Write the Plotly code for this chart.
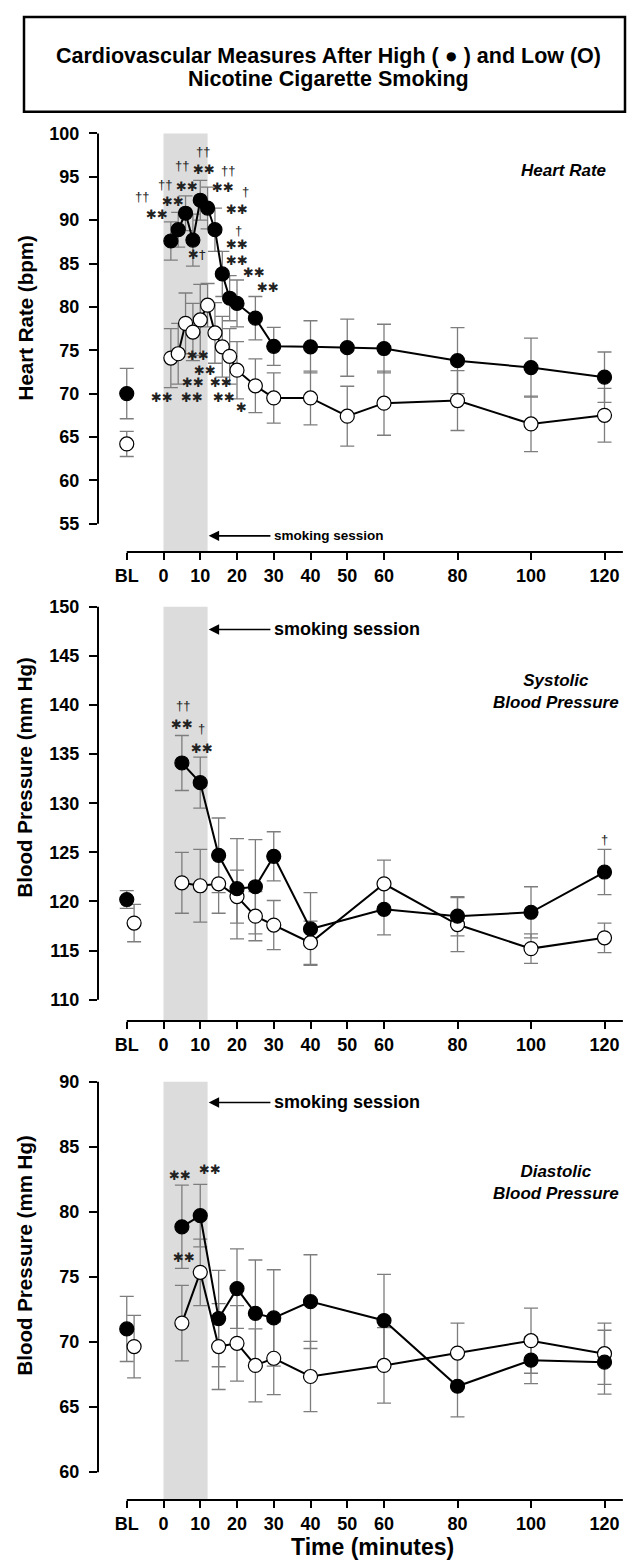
import plotly.graph_objects as go

W, H = 635, 1562
FONT = "Liberation Sans, Arial, Helvetica, sans-serif"
BL = -10          # x position used for the baseline (BL) category
BL_LOW = -8       # baseline position of the low-nicotine marker in BP panels

# ---------------- data ----------------
hr_time = [BL, 2, 4, 6, 8, 10, 12, 14, 16, 18, 20, 25, 30, 40, 50, 60, 80, 100, 120]
hr_high = [70.0, 87.6, 88.9, 90.8, 87.7, 92.3, 91.4, 88.9, 83.8, 81.0, 80.4, 78.7,
           75.45, 75.4, 75.3, 75.2, 73.8, 73.0, 71.9]
hr_high_err = [2.9, 2.2, 2.0, 2.0, 3.0, 2.3, 2.4, 2.5, 2.6, 2.6, 2.7, 2.5,
               2.2, 3.0, 3.3, 2.8, 3.8, 3.4, 2.9]
hr_low = [64.2, 74.1, 74.6, 78.1, 77.1, 78.5, 80.2, 77.0, 75.4, 74.3, 72.7, 70.9,
          69.5, 69.5, 67.4, 68.9, 69.2, 66.5, 67.5]
hr_low_err = [1.45, 3.4, 3.5, 3.5, 3.3, 4.1, 2.5, 3.5, 3.5, 3.2, 3.3, 3.1,
              2.9, 3.1, 3.45, 3.7, 3.45, 3.2, 3.1]

bp_time = [BL, 5, 10, 15, 20, 25, 30, 40, 60, 80, 100, 120]
sbp_high = [120.2, 134.1, 132.1, 124.7, 121.3, 121.5, 124.6, 117.2, 119.2, 118.5, 118.9, 123.0]
sbp_high_err = [0.9, 2.8, 2.6, 3.8, 5.1, 4.8, 2.5, 3.7, 2.6, 2.0, 2.6, 2.3]
sbp_low = [117.8, 121.9, 121.6, 121.8, 120.5, 118.5, 117.6, 115.8, 121.8, 117.65, 115.2, 116.3]
sbp_low_err = [1.9, 3.1, 3.7, 3.0, 2.7, 2.5, 2.5, 2.2, 2.4, 2.75, 1.5, 1.5]

dbp_high = [71.0, 78.85, 79.7, 71.8, 74.1, 72.2, 71.85, 73.1, 71.65, 66.6, 68.6, 68.45]
dbp_high_err = [2.5, 3.2, 2.4, 3.7, 3.05, 4.1, 3.7, 3.6, 3.55, 2.35, 1.8, 2.45]
dbp_low = [69.65, 71.45, 75.35, 69.65, 69.9, 68.2, 68.75, 67.35, 68.2, 69.15, 70.1, 69.1]
dbp_low_err = [2.4, 2.9, 2.55, 3.3, 2.9, 2.8, 2.8, 2.7, 2.9, 2.3, 2.5, 2.35]

x_tickvals = [BL, 0, 10, 20, 30, 40, 50, 60, 80, 100, 120]
x_ticktext = ["BL", "0", "10", "20", "30", "40", "50", "60", "80", "100", "120"]

hr_ticks = [55, 60, 65, 70, 75, 80, 85, 90, 95, 100]
sbp_ticks = [110, 115, 120, 125, 130, 135, 140, 145, 150]
dbp_ticks = [60, 65, 70, 75, 80, 85, 90]

# significance marks: (time, value, text)
hr_marks = [
    (10.67, 97.97, "††"), (5.12, 96.25, "††"), (11.02, 95.79, "✱✱"), (17.63, 95.67, "††"),
    (0.41, 94.13, "††"), (6.48, 93.83, "✱✱"), (16.27, 93.75, "✱✱"), (22.18, 93.29, "†"),
    (-5.93, 92.68, "††"), (2.50, 92.14, "✱✱"), (-1.69, 90.68, "✱✱"), (20.08, 91.25, "✱✱"),
    (9.03, 86.0, "✱†"), (20.35, 88.77, "†"), (20.08, 87.16, "✱✱"), (19.92, 85.31, "✱✱"),
    (24.63, 83.97, "✱✱"), (28.52, 82.24, "✱✱"),
    (9.47, 74.38, "✱✱"), (11.29, 72.65, "✱✱"), (8.11, 71.31, "✱✱"), (15.56, 71.31, "✱✱"),
    (-0.33, 69.5, "✱✱"), (7.67, 69.5, "✱✱"), (16.46, 69.5, "✱✱"), (21.28, 68.43, "✱"),
]
sbp_marks = [(5.39, 140.0, "††"), (4.95, 137.98, "✱✱"), (10.39, 137.63, "†"),
             (10.39, 135.6, "✱✱"), (120.1, 126.3, "†")]
dbp_marks = [(4.49, 82.77, "✱✱"), (12.65, 83.28, "✱✱"), (5.58, 76.52, "✱✱")]

SESSION_END = 12

# ---------------- layout geometry (pixels) ----------------
PX_LEFT, PX_RIGHT = 98, 625
PX_ZERO, PX_120 = 163.5, 604.5
ppm = (PX_120 - PX_ZERO) / 120.0
x_range = [(PX_LEFT - PX_ZERO) / ppm, (PX_RIGHT - PX_ZERO) / ppm]
x_dom = [PX_LEFT / W, PX_RIGHT / W]


def y_setup(top_px, bot_px, pa, va, pb, vb):
    ppu = (pb - pa) / (va - vb)
    vtop = va + (pa - top_px) / ppu
    vbot = va - (bot_px - pa) / ppu
    return [1 - bot_px / H, 1 - top_px / H], [vbot, vtop]


panels = [
    dict(dom_rng=y_setup(122, 550, 130.7, 100, 521.7, 55), t=hr_time, hi=hr_high, hie=hr_high_err,
         lo=hr_low, loe=hr_low_err, bl_low=BL, ticks=hr_ticks, marks=hr_marks,
         title="Heart Rate (bpm)", title_y=316, label="Heart Rate", label_xy=(563, 168),
         sess_v=53.6, sess_size=13.5),
    dict(dom_rng=y_setup(598, 1020, 605, 150, 998.6, 110), t=bp_time, hi=sbp_high, hie=sbp_high_err,
         lo=sbp_low, loe=sbp_low_err, bl_low=BL_LOW, ticks=sbp_ticks, marks=sbp_marks,
         title="Blood Pressure (mm Hg)", title_y=776, label="Systolic<br>Blood Pressure",
         label_xy=(556, 690), sess_v=147.7, sess_size=18),
    dict(dom_rng=y_setup(1073, 1500, 1080.7, 90, 1472, 60), t=bp_time, hi=dbp_high, hie=dbp_high_err,
         lo=dbp_low, loe=dbp_low_err, bl_low=BL_LOW, ticks=dbp_ticks, marks=dbp_marks,
         title="Blood Pressure (mm Hg)", title_y=1255, label="Diastolic<br>Blood Pressure",
         label_xy=(556, 1182), sess_v=88.4, sess_size=18),
]

fig = go.Figure()
shapes, annotations = [], []
ERR_COLOR = "#7d7d7d"
TICKFONT = dict(family=FONT, size=18, color="black", weight="bold")

for i, p in enumerate(panels, start=1):
    xa = "x" if i == 1 else f"x{i}"
    ya = "y" if i == 1 else f"y{i}"
    dom, rng = p["dom_rng"]
    t, hi, hie, lo, loe = p["t"], p["hi"], p["hie"], p["lo"], p["loe"]
    t_lo = [p["bl_low"]] + t[1:]

    # error bars first (under markers)
    for xs, ys, es in ((t_lo, lo, loe), (t, hi, hie)):
        fig.add_trace(go.Scatter(
            x=xs, y=ys, mode="markers", xaxis=xa, yaxis=ya, showlegend=False, hoverinfo="skip",
            marker=dict(size=1, color="rgba(0,0,0,0)"),
            error_y=dict(type="data", array=es, color=ERR_COLOR, thickness=1.3, width=7)))
    # low nicotine (open) then high nicotine (filled)
    for xs, ys, fill in ((t_lo, lo, "white"), (t, hi, "black")):
        fig.add_trace(go.Scatter(
            x=xs[1:], y=ys[1:], mode="lines+markers", xaxis=xa, yaxis=ya, showlegend=False,
            line=dict(color="black", width=2),
            marker=dict(size=14, color=fill, line=dict(color="black", width=1.2))))
        fig.add_trace(go.Scatter(
            x=xs[:1], y=ys[:1], mode="markers", xaxis=xa, yaxis=ya, showlegend=False,
            marker=dict(size=14, color=fill, line=dict(color="black", width=1.2))))

    axis_common = dict(showgrid=False, zeroline=False, showline=False, ticks="outside",
                       tickcolor="black", tickwidth=2, tickfont=TICKFONT)
    fig.layout[("xaxis" if i == 1 else f"xaxis{i}")] = dict(
        domain=x_dom, range=x_range, anchor=ya, tickvals=x_tickvals, ticktext=x_ticktext,
        ticklen=7, **axis_common)
    fig.layout[("yaxis" if i == 1 else f"yaxis{i}")] = dict(
        domain=dom, range=rng, anchor=xa, tickvals=p["ticks"], ticklen=8,
        ticklabelstandoff=6, **axis_common)

    # smoking session shading
    shapes.append(dict(type="rect", xref=xa, yref=ya, x0=0, x1=SESSION_END, y0=rng[0],
                       y1=p["ticks"][-1], fillcolor="#dcdcdc", line=dict(width=0), layer="below"))
    # axis lines
    shapes.append(dict(type="line", xref=f"{xa} domain", yref=ya, x0=0, x1=0,
                       y0=p["ticks"][0], y1=p["ticks"][-1], line=dict(color="black", width=2)))
    shapes.append(dict(type="line", xref=xa, yref=f"{ya} domain", x0=BL, x1=125,
                       y0=0, y1=0, line=dict(color="black", width=2)))

    # significance marks
    for (mx, my, txt) in p["marks"]:
        big = "✱" in txt
        annotations.append(dict(xref=xa, yref=ya, x=mx, y=my, text=txt, showarrow=False,
                                xanchor="center", yanchor="middle",
                                font=dict(family="DejaVu Sans" if big else FONT,
                                          size=13, color="#222")))

    # smoking session arrow + text
    annotations.append(dict(xref=xa, yref=ya, x=SESSION_END + 0.3, y=p["sess_v"], axref=xa, ayref=ya,
                            ax=29.5, ay=p["sess_v"], text="", showarrow=True, arrowhead=2,
                            arrowsize=1.3, arrowwidth=1.6, arrowcolor="black"))
    annotations.append(dict(xref=xa, yref=ya, x=29.5, y=p["sess_v"], text="smoking session",
                            showarrow=False, xanchor="left", yanchor="middle",
                            font=dict(family=FONT, size=p["sess_size"], color="black", weight="bold")))

    # y axis title
    annotations.append(dict(xref="paper", yref="paper", x=25 / W, y=1 - p["title_y"] / H,
                            xanchor="center", yanchor="middle",
                            text=p["title"], textangle=-90, showarrow=False,
                            font=dict(family=FONT, size=20.5, color="black", weight="bold")))
    # panel label
    lx, ly = p["label_xy"]
    annotations.append(dict(xref="paper", yref="paper", x=lx / W, y=1 - ly / H,
                            xanchor="center", yanchor="middle",
                            text="<i>" + p["label"] + "</i>", showarrow=False,
                            font=dict(family=FONT, size=17, color="black", weight="bold")))

# title box
shapes.append(dict(type="rect", xref="paper", yref="paper", x0=24 / W, x1=625 / W,
                   y0=1 - 109 / H, y1=1 - 14 / H, line=dict(color="black", width=2.5)))
title_lines = ["Cardiovascular Measures After High ( ● ) and Low (O)", "Nicotine Cigarette Smoking"]
for line, yc in zip(title_lines, (53, 76)):
    annotations.append(dict(xref="paper", yref="paper", x=328 / W, y=1 - yc / H,
                            xanchor="center", yanchor="middle", text=line, showarrow=False,
                            font=dict(family=FONT, size=21.5, color="black", weight="bold")))
# x axis title
annotations.append(dict(xref="paper", yref="paper", x=372 / W, y=1 - 1547 / H,
                        xanchor="center", yanchor="middle",
                        text="Time (minutes)", showarrow=False,
                        font=dict(family=FONT, size=23, color="black", weight="bold")))

fig.update_layout(width=W, height=H, margin=dict(l=0, r=0, t=0, b=0),
                  paper_bgcolor="white", plot_bgcolor="white", showlegend=False,
                  shapes=shapes, annotations=annotations)

fig.write_html("out.html")
